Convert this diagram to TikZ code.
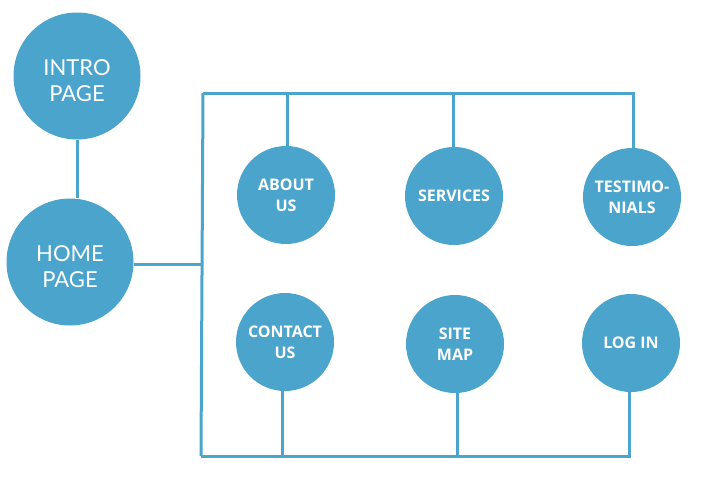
\documentclass[tikz,border=0pt]{standalone}
\usepackage{fontspec}
\setmainfont{Open Sans}
\newfontfamily\bigfont{Lato}
\definecolor{blu}{HTML}{4BA4CC}
\begin{document}
\begin{tikzpicture}[x=1pt,y=-1pt,
  bigc/.style={circle,fill=blu,draw=none,minimum size=127pt,inner sep=0pt},
  bigtext/.style={text=white,align=center,font=\bigfont\fontsize{22}{26}\selectfont,yshift=-5pt},
  smallc/.style={circle,fill=blu,draw=none,minimum size=98pt,inner sep=0pt,text=white,align=center,font=\bfseries\fontsize{16}{21}\selectfont},
  wire/.style={draw=blu,line width=3pt}]
\useasboundingbox (0,0) rectangle (708,487);
\node[bigc,label={[bigtext]center:INTRO\\PAGE}] (intro) at (77,76) {};
\node[bigc,label={[bigtext]center:HOME\\PAGE}] (home) at (70,262) {};
\node[smallc] (about) at (286,195) {ABOUT\\US};
\node[smallc] (serv) at (454,196) {SERVICES};
\node[smallc] (test) at (632,197) {TESTIMO-\\NIALS};
\node[smallc] (contact) at (285,342) {CONTACT\\US};
\node[smallc] (site) at (455,344) {SITE\\MAP};
\node[smallc] (login) at (631,343) {LOG IN};
\coordinate (tl) at (203,93);
\coordinate (bl) at (201,456);
\coordinate (hl) at (202,264);
\draw[wire] (intro.south) -- (intro.south |- home.north);
\draw[wire] (home.east |- hl) -- (hl);
\draw[wire] (tl) -- (bl);
\draw[wire,line join=miter] (about.north -| 287,0) -- (287,93) -- (tl);
\draw[wire] (287,93) -- (633,93) -- (test.north -| 633,0);
\draw[wire] (453,93) -- (serv.north -| 453,0);
\draw[wire] (contact.south -| 282,0) -- (282,456);
\draw[wire] (bl) -- (629,456) -- (login.south -| 629,0);
\draw[wire] (site.south -| 457,0) -- (457,456);
\end{tikzpicture}
\end{document}
